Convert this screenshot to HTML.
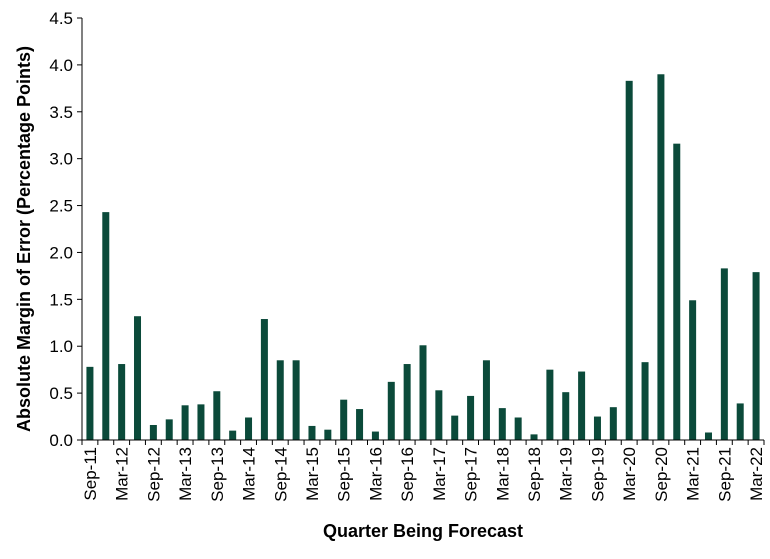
<!DOCTYPE html>
<html><head><meta charset="utf-8"><style>
body{margin:0;background:#fff;}
svg{display:block;font-family:"Liberation Sans",Arial,sans-serif;}
</style></head><body>
<svg id="chart" width="770" height="559" viewBox="0 0 770 559" xmlns="http://www.w3.org/2000/svg"></svg>
<script>
const quarters=["Sep-11","Dec-11","Mar-12","Jun-12","Sep-12","Dec-12","Mar-13","Jun-13","Sep-13","Dec-13","Mar-14","Jun-14","Sep-14","Dec-14","Mar-15","Jun-15","Sep-15","Dec-15","Mar-16","Jun-16","Sep-16","Dec-16","Mar-17","Jun-17","Sep-17","Dec-17","Mar-18","Jun-18","Sep-18","Dec-18","Mar-19","Jun-19","Sep-19","Dec-19","Mar-20","Jun-20","Sep-20","Dec-20","Mar-21","Jun-21","Sep-21","Dec-21","Mar-22"];
const errors=[0.78,2.43,0.81,1.32,0.16,0.22,0.37,0.38,0.52,0.10,0.24,1.29,0.85,0.85,0.15,0.11,0.43,0.33,0.09,0.62,0.81,1.01,0.53,0.26,0.47,0.85,0.34,0.24,0.06,0.75,0.51,0.73,0.25,0.35,3.83,0.83,3.90,3.16,1.49,0.08,1.83,0.39,1.79];
const yTicks=[0,0.5,1,1.5,2,2.5,3,3.5,4,4.5];
const svg=document.getElementById('chart');
const NS='http://www.w3.org/2000/svg';
const L=82,R=764,T=18,B=440,yMax=4.5;
const y=v=>B-(v/yMax)*(B-T);
const step=(R-L)/quarters.length;
const xc=i=>L+step*(i+0.5);
function mk(tag,attrs,txt){const e=document.createElementNS(NS,tag);for(const k in attrs)e.setAttribute(k,attrs[k]);if(txt!==undefined)e.textContent=txt;svg.appendChild(e);return e;}
errors.forEach((v,i)=>{
 const r=mk('rect',{x:xc(i)-3.5,y:y(v),width:7,height:B-y(v),fill:'#0b4a3a'});
 
 
});
const ya=mk('line',{x1:L,y1:T,x2:L,y2:B,stroke:'#000','stroke-width':1});


const xa=mk('line',{x1:L,y1:B,x2:R,y2:B,stroke:'#000','stroke-width':1});


yTicks.forEach(t=>{
 mk('line',{x1:L-5,y1:y(t),x2:L,y2:y(t),stroke:'#000'});
 const tx=mk('text',{x:L-9,y:y(t)+6,'text-anchor':'end','font-size':17,fill:'#000'},t.toFixed(1));
 
 
});
quarters.forEach((q,i)=>{
 mk('line',{x1:L+step*i,y1:B,x2:L+step*i,y2:B+5,stroke:'#000'});
 if(i%2===0){
  const tx=mk('text',{x:0,y:0,'text-anchor':'end','font-size':17,fill:'#000',transform:`translate(${xc(i)+6},${B+7}) rotate(-90)`},q);
  
  
 }
});
mk('line',{x1:R,y1:B,x2:R,y2:B+5,stroke:'#000'});
const xt=mk('text',{x:(L+R)/2,y:537,'text-anchor':'middle','font-size':18,'font-weight':'bold'},'Quarter Being Forecast');


const yt=mk('text',{x:0,y:0,'text-anchor':'middle','font-size':18,'font-weight':'bold',transform:`translate(30,${(T+B)/2+10}) rotate(-90)`},'Absolute Margin of Error (Percentage Points)');


</script>
</body></html>
